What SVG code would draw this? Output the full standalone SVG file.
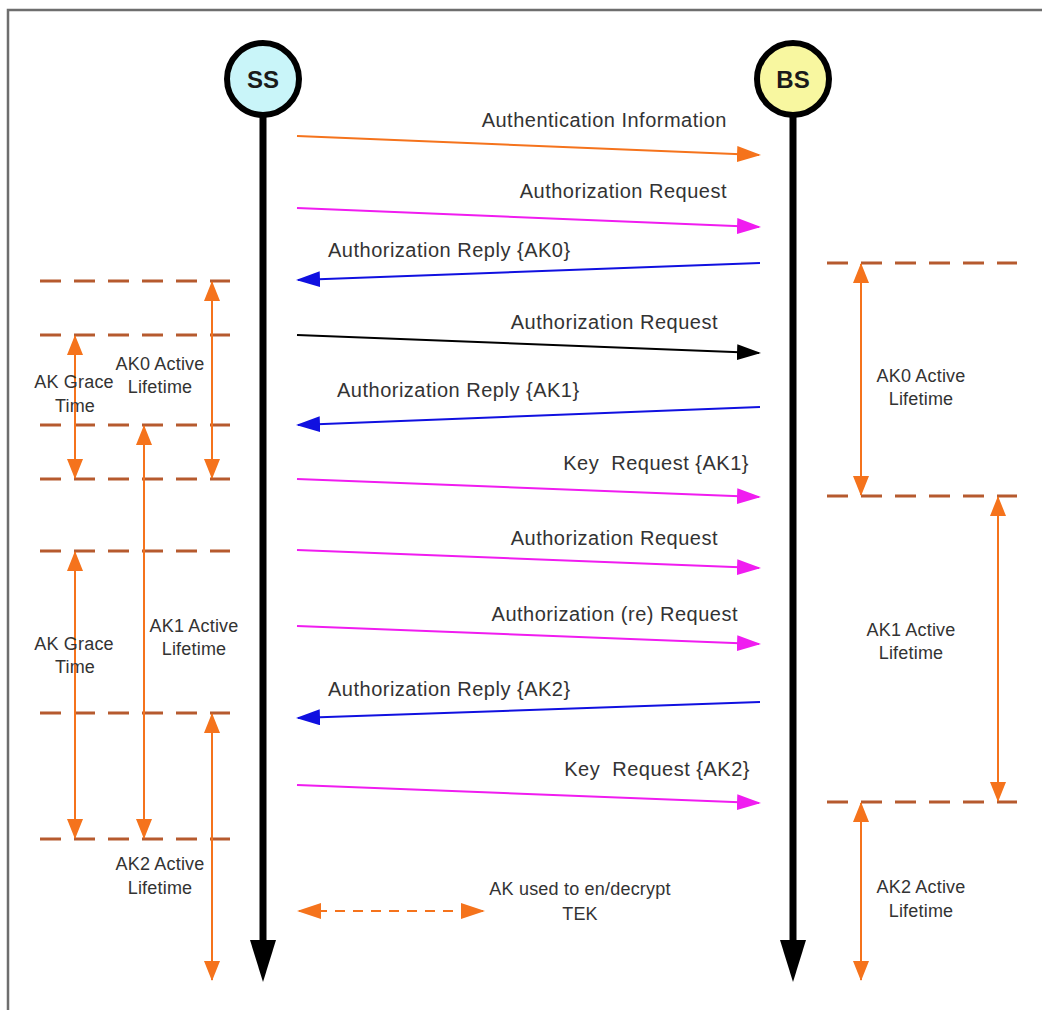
<svg xmlns="http://www.w3.org/2000/svg" width="1042" height="1010" viewBox="0 0 1042 1010">
  <style>
    .msg { font-family: "Liberation Sans", Arial, sans-serif; font-size: 20px; letter-spacing: 0.5px; fill: #333; white-space: pre; }
    .lbl { font-family: "Liberation Sans", Arial, sans-serif; font-size: 18px; letter-spacing: 0.2px; fill: #333; text-anchor: middle; }
    .node-label { font-family: "Liberation Sans", Arial, sans-serif; font-size: 24px; font-weight: bold; fill: #1a1a1a; text-anchor: middle; }
    .life { stroke: #000; stroke-width: 7; fill: none; }
    .mline { stroke-width: 2; fill: none; }
    .tick { stroke: #b65a2e; stroke-width: 3; stroke-dasharray: 21 13; fill: none; }
    .span { stroke: #f5731c; stroke-width: 2; fill: none; marker-start: url(#oHead); marker-end: url(#oHead); }
  </style>
  <defs>
    <marker id="oMsg" markerUnits="userSpaceOnUse" markerWidth="24" markerHeight="16" viewBox="0 0 24 16" refX="22" refY="8" orient="auto-start-reverse">
      <path d="M0,0 L24,8 L0,16 z" fill="#f5731c"/>
    </marker>
    <marker id="mMsg" markerUnits="userSpaceOnUse" markerWidth="24" markerHeight="16" viewBox="0 0 24 16" refX="22" refY="8" orient="auto-start-reverse">
      <path d="M0,0 L24,8 L0,16 z" fill="#f01cf0"/>
    </marker>
    <marker id="bMsg" markerUnits="userSpaceOnUse" markerWidth="24" markerHeight="16" viewBox="0 0 24 16" refX="22" refY="8" orient="auto-start-reverse">
      <path d="M0,0 L24,8 L0,16 z" fill="#1010e0"/>
    </marker>
    <marker id="kMsg" markerUnits="userSpaceOnUse" markerWidth="24" markerHeight="16" viewBox="0 0 24 16" refX="22" refY="8" orient="auto-start-reverse">
      <path d="M0,0 L24,8 L0,16 z" fill="#000"/>
    </marker>
    <marker id="oHead" markerUnits="userSpaceOnUse" markerWidth="20" markerHeight="16" viewBox="0 0 20 16" refX="19" refY="8" orient="auto-start-reverse">
      <path d="M0,0 L20,8 L0,16 z" fill="#f5731c"/>
    </marker>
  </defs>

  <rect width="1042" height="1010" fill="#fff"/>
  <!-- frame -->
  <path d="M8,1010 V10 H1042" fill="none" stroke="#6e6e6e" stroke-width="2.5"/>

  <!-- lifelines -->
  <g id="lifelines">
    <line class="life" x1="263" y1="115" x2="263" y2="946"/>
    <polygon points="250,940 276,940 263,982" fill="#000"/>
    <line class="life" x1="793" y1="115" x2="793" y2="946"/>
    <polygon points="780,940 806,940 793,982" fill="#000"/>
  </g>

  <g id="node-ss">
    <circle cx="263" cy="79" r="36" fill="#c9f5f9" stroke="#000" stroke-width="6"/>
    <text class="node-label" x="263" y="88">SS</text>
  </g>
  <g id="node-bs">
    <circle cx="793" cy="79" r="36" fill="#f8f7a0" stroke="#000" stroke-width="6"/>
    <text class="node-label" x="793" y="88">BS</text>
  </g>

  <!-- messages between SS and BS -->
  <g id="connectors">
    <line class="mline" x1="297" y1="136" x2="759" y2="155" stroke="#f5731c" marker-end="url(#oMsg)"/>
    <line class="mline" x1="297" y1="208" x2="759" y2="227" stroke="#f01cf0" marker-end="url(#mMsg)"/>
    <line class="mline" x1="760" y1="263" x2="298" y2="280" stroke="#1010e0" marker-end="url(#bMsg)"/>
    <line class="mline" x1="297" y1="335" x2="759" y2="353" stroke="#000" marker-end="url(#kMsg)"/>
    <line class="mline" x1="760" y1="407" x2="298" y2="425" stroke="#1010e0" marker-end="url(#bMsg)"/>
    <line class="mline" x1="297" y1="479" x2="759" y2="497" stroke="#f01cf0" marker-end="url(#mMsg)"/>
    <line class="mline" x1="297" y1="550" x2="759" y2="568" stroke="#f01cf0" marker-end="url(#mMsg)"/>
    <line class="mline" x1="297" y1="626" x2="759" y2="644" stroke="#f01cf0" marker-end="url(#mMsg)"/>
    <line class="mline" x1="760" y1="702" x2="298" y2="718" stroke="#1010e0" marker-end="url(#bMsg)"/>
    <line class="mline" x1="297" y1="785" x2="759" y2="803" stroke="#f01cf0" marker-end="url(#mMsg)"/>
    <!-- legend -->
    <line x1="299" y1="911" x2="483" y2="911" stroke="#f5731c" stroke-width="2" stroke-dasharray="10 8" marker-start="url(#oMsg)" marker-end="url(#oMsg)"/>
  </g>

  <g id="message-labels">
    <text class="msg" x="727" y="127" text-anchor="end">Authentication Information</text>
    <text class="msg" x="727" y="198" text-anchor="end">Authorization Request</text>
    <text class="msg" x="328" y="257">Authorization Reply {AK0}</text>
    <text class="msg" x="718" y="329" text-anchor="end">Authorization Request</text>
    <text class="msg" x="337" y="397">Authorization Reply {AK1}</text>
    <text class="msg" x="749" y="470" text-anchor="end">Key  Request {AK1}</text>
    <text class="msg" x="718" y="545" text-anchor="end">Authorization Request</text>
    <text class="msg" x="738" y="621" text-anchor="end">Authorization (re) Request</text>
    <text class="msg" x="328" y="696">Authorization Reply {AK2}</text>
    <text class="msg" x="750" y="776" text-anchor="end">Key  Request {AK2}</text>
    <text class="lbl" x="580" y="895">AK used to en/decrypt</text>
    <text class="lbl" x="580" y="920">TEK</text>
  </g>

  <!-- SS side key timeline -->
  <g id="ss-timeline">
    <line class="tick" x1="40" y1="281" x2="230" y2="281"/>
    <line class="tick" x1="40" y1="335" x2="230" y2="335"/>
    <line class="tick" x1="40" y1="425" x2="230" y2="425"/>
    <line class="tick" x1="40" y1="479" x2="230" y2="479"/>
    <line class="tick" x1="40" y1="551" x2="230" y2="551"/>
    <line class="tick" x1="40" y1="713" x2="230" y2="713"/>
    <line class="tick" x1="40" y1="839" x2="230" y2="839"/>

    <line class="span" x1="212" y1="282" x2="212" y2="478"/>
    <line class="span" x1="75" y1="336" x2="75" y2="478"/>
    <line class="span" x1="144" y1="426" x2="144" y2="838"/>
    <line class="span" x1="75" y1="552" x2="75" y2="838"/>
    <line class="span" x1="212" y1="714" x2="212" y2="980"/>

    <text class="lbl" x="160" y="370">AK0 Active</text>
    <text class="lbl" x="160" y="393">Lifetime</text>
    <text class="lbl" x="74" y="388">AK Grace</text>
    <text class="lbl" x="75" y="412">Time</text>
    <text class="lbl" x="194" y="632">AK1 Active</text>
    <text class="lbl" x="194" y="655">Lifetime</text>
    <text class="lbl" x="74" y="650">AK Grace</text>
    <text class="lbl" x="75" y="673">Time</text>
    <text class="lbl" x="160" y="870">AK2 Active</text>
    <text class="lbl" x="160" y="894">Lifetime</text>
  </g>

  <!-- BS side key timeline -->
  <g id="bs-timeline">
    <line class="tick" x1="827" y1="263" x2="1017" y2="263"/>
    <line class="tick" x1="827" y1="496" x2="1017" y2="496"/>
    <line class="tick" x1="827" y1="802" x2="1017" y2="802"/>

    <line class="span" x1="861" y1="264" x2="861" y2="495"/>
    <line class="span" x1="998" y1="497" x2="998" y2="801"/>
    <line class="span" x1="861" y1="803" x2="861" y2="980"/>

    <text class="lbl" x="921" y="382">AK0 Active</text>
    <text class="lbl" x="921" y="405">Lifetime</text>
    <text class="lbl" x="911" y="636">AK1 Active</text>
    <text class="lbl" x="911" y="659">Lifetime</text>
    <text class="lbl" x="921" y="893">AK2 Active</text>
    <text class="lbl" x="921" y="917">Lifetime</text>
  </g>
</svg>
